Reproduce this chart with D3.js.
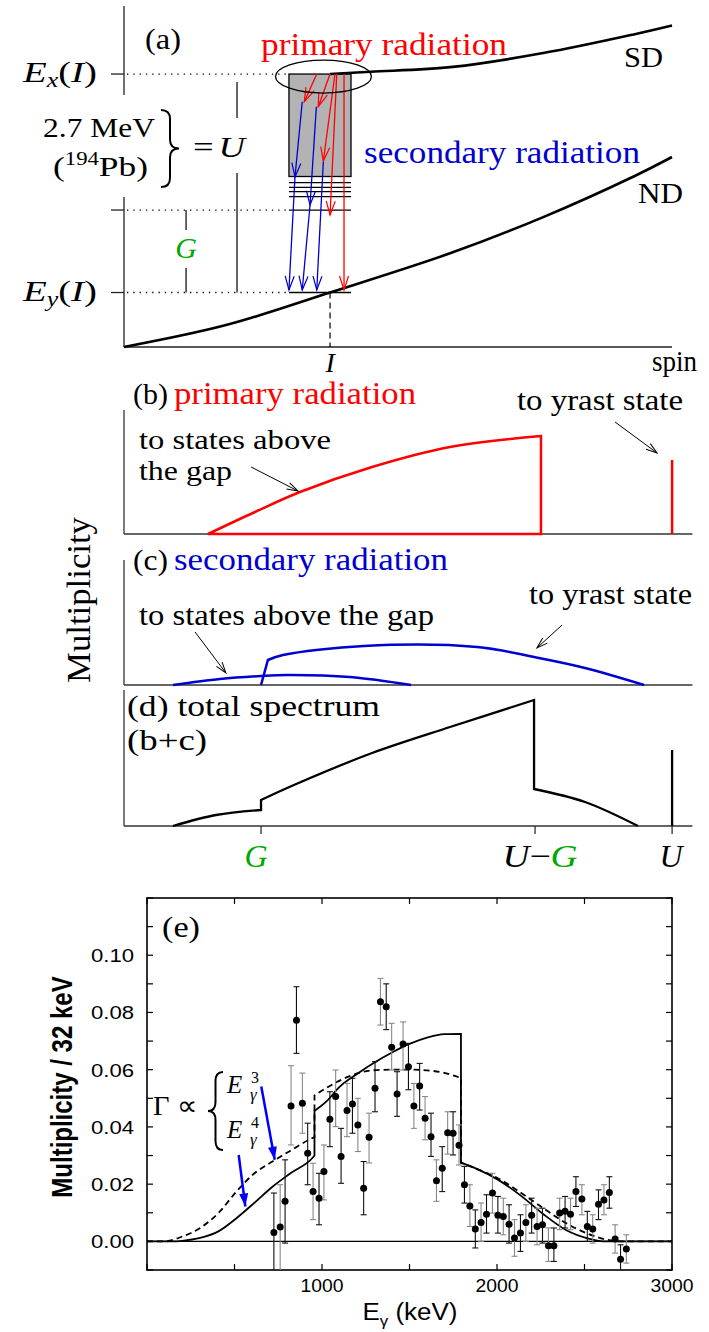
<!DOCTYPE html>
<html lang="en">
<head>
<meta charset="UTF-8">
<title>Primary and secondary radiation</title>
<script src="https://d3js.org/d3.v7.min.js"></script>
<style>
    body { margin: 0; background: #fff; }
    svg { display: block; }
</style>
</head>
<body>
<div id="chart"></div>
<script>
// ---------- panel (a): level scheme, spin vs energy (MeV) ----------
var sdCurve = [[15.04, 3.362], [18.0, 3.39], [24.0, 3.45], [30.6, 3.62], [37.2, 3.85], [40.0, 3.96]];
var ndCurve = [[0, 0], [7.45, 0.27], [15.04, 0.671], [23.9, 1.16], [30.6, 1.60], [37.2, 2.10], [40.0, 2.34]];
var spinI = 15.04;
var levelEx = 3.362, levelEy = 0.671, levelGap = 1.687;
var boxSpin = [12.04, 16.57], boxE = [2.100, 3.362];
var boxLines = [2.024, 1.967, 1.913, 1.851, 1.687, 0.671];
// [spin0, E0, spin1, E1]
var redArrows = [
    [14.07, 3.362, 13.16, 3.021],
    [15.04, 3.362, 14.18, 2.960],
    [15.40, 3.362, 14.55, 2.291],
    [15.53, 3.362, 15.04, 1.626],
    [16.06, 3.362, 16.06, 0.702]
];
var blueArrows = [
    [13.01, 3.021, 12.48, 2.094],
    [12.48, 2.094, 12.04, 0.702],
    [14.04, 2.960, 13.58, 1.749],
    [13.58, 1.749, 13.01, 0.702],
    [14.55, 2.282, 14.07, 0.702]
];
var ellipseA = {spin: 14.56, E: 3.331, dSpin: 3.5, dE: 0.203};
var uBar = {spin: 8.25, top: 3.264, gapTop: 2.82, gapBot: 2.143};
var gBar = {spin: 4.53, gapTop: 1.441, gapBot: 0.973};
var axisGapA = [1.847, 3.104];

// ---------- panels (b)-(d): schematic spectra vs E (MeV), U = 2.7 ----------
var valU = 2.7, valG = 0.675, valUmG = 2.025;
var primaryAbove = [[0.414, 0], [0.645, 0.22], [0.867, 0.42], [1.222, 0.67], [1.606, 0.87], [2.054, 0.98]];
var primaryYrast = 0.74;
var secondaryAbove = [[0.241, 0], [0.473, 0.06], [0.675, 0.09], [0.798, 0.10], [1.113, 0.08], [1.414, 0]];
var secondaryYrast = [[0.709, 0.25], [0.783, 0.30], [1.182, 0.39], [1.739, 0.38], [2.044, 0.27], [2.271, 0.17], [2.562, 0]];
var totalPieces = [
    [[0.241, 0], [0.453, 0.11], [0.675, 0.16]],
    [[0.675, 0.26], [0.837, 0.41], [1.222, 0.73], [1.606, 0.99], [2.02, 1.26]],
    [[2.02, 0.37], [2.271, 0.24], [2.532, 0]]
];
var totalYrast = 0.76;

// ---------- panel (e): measured quasi-continuum spectrum ----------
var binE = [725, 761, 789, 823, 854, 888, 918, 949, 983, 1011, 1045, 1078, 1109, 1143, 1174, 1205,
            1238, 1269, 1303, 1334, 1367, 1398, 1429, 1463, 1494, 1525, 1558, 1589, 1623, 1654, 1687, 1718,
            1749, 1783, 1814, 1845, 1876, 1909, 1940, 1974, 2005, 2036, 2069, 2100, 2134, 2165, 2198, 2229,
            2260, 2294, 2325, 2358, 2389, 2420, 2451, 2485, 2516, 2547, 2580, 2611, 2642, 2675, 2706, 2739];
var binMult = [0.0031, 0.0050, 0.0140, 0.0473, 0.0773, 0.0483, 0.0308, 0.0174, 0.0151, 0.0244, 0.0427, 0.0506, 0.0297, 0.0457, 0.0480, 0.0407,
               0.0186, 0.0364, 0.0535, 0.0837, 0.0820, 0.0678, 0.0515, 0.0690, 0.0610, 0.0473, 0.0543, 0.0430, 0.0366, 0.0212, 0.0256, 0.0380,
               0.0378, 0.0336, 0.0198, 0.0124, 0.0043, 0.0066, 0.0095, 0.0169, 0.0091, 0.0087, 0.0060, 0.0012, 0.0029, 0.0066, 0.0091, 0.0052,
               0.0058, -0.0015, -0.0015, 0.0099, 0.0105, 0.0095, 0.0174, 0.0148, 0.0052, 0.0043, 0.0130, 0.0145, 0.0171, 0.0008, -0.0062, -0.0027];
var binLow = [-0.012, -0.012, -0.0006, 0.0337, 0.0657, 0.0378, 0.0198, 0.0076, 0.0058, 0.0145, 0.0331, 0.0401, 0.0203, 0.0366, 0.0378, 0.0314,
              0.0093, 0.0274, 0.0453, 0.0756, 0.0740, 0.0599, 0.0437, 0.0599, 0.0530, 0.0395, 0.0459, 0.0355, 0.0297, 0.0140, 0.0174, 0.0305,
              0.0302, 0.0267, 0.0134, 0.0052, -0.0023, 0.0000, 0.0029, 0.0099, 0.0029, 0.0023, -0.0006, -0.0052, -0.0035, 0.0000, 0.0029, -0.0012,
              -0.0006, -0.0070, -0.0070, 0.0041, 0.0047, 0.0041, 0.0122, 0.0093, 0.0000, -0.0006, 0.0076, 0.0093, 0.0116, -0.0041, -0.0110, -0.0076];
var binHigh = [0.0169, 0.0198, 0.0285, 0.0614, 0.0890, 0.0588, 0.0413, 0.0273, 0.0238, 0.0337, 0.0523, 0.0599, 0.0395, 0.0552, 0.0570, 0.0500,
               0.0279, 0.0448, 0.0628, 0.0919, 0.0900, 0.0762, 0.0593, 0.0767, 0.0692, 0.0552, 0.0622, 0.0506, 0.0448, 0.0285, 0.0331, 0.0453,
               0.0453, 0.0407, 0.0262, 0.0198, 0.0110, 0.0134, 0.0163, 0.0238, 0.0157, 0.0151, 0.0128, 0.0076, 0.0093, 0.0128, 0.0151, 0.0116,
               0.0116, 0.0047, 0.0047, 0.0151, 0.0157, 0.0151, 0.0226, 0.0198, 0.0105, 0.0093, 0.0180, 0.0198, 0.0226, 0.0058, -0.0012, 0.0023];
// Gamma ~ E^4 (solid) and E^3 (dashed) calculations
var calcE4 = [[0, 0], [150, 0], [201, 0.0002], [304, 0.0012], [408, 0.0035], [511, 0.0081], [614, 0.0135], [717, 0.0191], [820, 0.0238], [949, 0.0294], [957, 0.0300],
              [957, 0.0456], [1027, 0.0490], [1100, 0.0540], [1200, 0.0585], [1300, 0.0625], [1400, 0.0660], [1500, 0.0690], [1600, 0.0712], [1700, 0.0724], [1794, 0.0725],
              [1794, 0.0275], [1878, 0.0255], [2007, 0.0215], [2136, 0.0160], [2265, 0.0095], [2394, 0.0040], [2523, 0.0010], [2626, 0], [3000, 0]];
var calcE3 = [[0, 0], [100, 0], [201, 0.0017], [304, 0.0047], [408, 0.0099], [511, 0.0174], [614, 0.0238], [717, 0.0279], [820, 0.0317], [949, 0.0362], [957, 0.0364],
              [957, 0.0510], [1027, 0.0537], [1178, 0.0582], [1293, 0.0598], [1400, 0.0600], [1521, 0.0600], [1674, 0.0592], [1794, 0.0571],
              [1794, 0.0275], [1878, 0.0255], [2007, 0.0220], [2136, 0.0170], [2265, 0.0116], [2394, 0.0064], [2523, 0.0026], [2626, 0.0006], [2700, 0], [3000, 0]];
var yTicksE = [0.00, 0.02, 0.04, 0.06, 0.08, 0.10];
var xTicksE = [1000, 2000, 3000];

var red = '#ff0000', blue = '#0000d0', green = '#00a800';
var serif = '"Liberation Serif", "Times New Roman", serif';
var sans = '"Liberation Sans", Arial, sans-serif';

var svg = d3.select('#chart').append('svg')
    .attr('width', 709).attr('height', 1332)
    .style('background', '#fff');
var defs = svg.append('defs');

function openHead(id, color, len, half, sw) {
    defs.append('marker').attr('id', id)
        .attr('viewBox', (-len - 2) + ' ' + (-half - 2) + ' ' + (len + 4) + ' ' + (2 * half + 4))
        .attr('refX', 0).attr('refY', 0)
        .attr('markerWidth', len + 4).attr('markerHeight', 2 * half + 4)
        .attr('markerUnits', 'userSpaceOnUse').attr('orient', 'auto')
        .append('path').attr('d', 'M' + (-len) + ',' + (-half) + ' L0,0 L' + (-len) + ',' + half)
        .attr('fill', 'none').attr('stroke', color).attr('stroke-width', sw);
}
openHead('hRed', red, 14, 4.5, 1.2);
openHead('hBlue', blue, 14, 4.5, 1.2);
openHead('hBlack', '#000', 11, 3.5, 1);
defs.append('marker').attr('id', 'hFill')
    .attr('viewBox', '-14 -6 16 12').attr('refX', 0).attr('refY', 0)
    .attr('markerWidth', 16).attr('markerHeight', 12)
    .attr('markerUnits', 'userSpaceOnUse').attr('orient', 'auto')
    .append('path').attr('d', 'M-13,-4.5 L0,0 L-13,4.5 Z').attr('fill', '#0000ff');

function addText(g, x, y, parts, o) {
    o = o || {};
    var t = g.append('text').attr('x', x).attr('y', y)
        .attr('font-family', o.family || serif)
        .attr('font-size', o.size || 30)
        .attr('fill', o.color || '#000')
        .attr('text-anchor', o.anchor || 'start');
    if (o.width) t.attr('textLength', o.width).attr('lengthAdjust', 'spacingAndGlyphs');
    if (o.weight) t.attr('font-weight', o.weight);
    if (o.transform) t.attr('transform', o.transform);
    parts.forEach(function(p) {
        if (typeof p === 'string') p = {t: p};
        var s = t.append('tspan').text(p.t);
        if (p.italic) s.attr('font-style', 'italic');
        if (p.size) s.attr('font-size', p.size);
        if (p.dy) s.attr('dy', p.dy);
        if (p.dx) s.attr('dx', p.dx);
        if (p.color) s.attr('fill', p.color);
    });
    return t;
}

function bracePath(x, y0, y1, w, d) {
    var ym = (y0 + y1) / 2, xm = x + d * w / 2, xt = x + d * w, q = Math.min(9, (y1 - y0) / 6);
    return 'M' + x + ',' + y0 + ' Q' + xm + ',' + y0 + ' ' + xm + ',' + (y0 + q) +
        ' L' + xm + ',' + (ym - q) + ' Q' + xm + ',' + ym + ' ' + xt + ',' + ym +
        ' Q' + xm + ',' + ym + ' ' + xm + ',' + (ym + q) +
        ' L' + xm + ',' + (y1 - q) + ' Q' + xm + ',' + y1 + ' ' + x + ',' + y1;
}

// =================== (a) ===================
var ga = svg.append('g');
var sx = d3.scaleLinear().domain([0, 40]).range([124, 672]);
var sy = d3.scaleLinear().domain([0, 4.2]).range([347, 6]);
var lineA = d3.line().x(function(d) { return sx(d[0]); }).y(function(d) { return sy(d[1]); }).curve(d3.curveCatmullRom);

// axes
ga.append('line').attr('x1', sx(0)).attr('x2', sx(0)).attr('y1', sy(4.2)).attr('y2', sy(axisGapA[1])).attr('stroke', '#222').attr('stroke-width', 1.3);
ga.append('line').attr('x1', sx(0)).attr('x2', sx(0)).attr('y1', sy(axisGapA[0])).attr('y2', sy(0)).attr('stroke', '#222').attr('stroke-width', 1.3);
ga.append('line').attr('x1', sx(0)).attr('x2', sx(40)).attr('y1', sy(0)).attr('y2', sy(0)).attr('stroke', '#222').attr('stroke-width', 1.3);
[levelEx, levelGap, levelEy].forEach(function(e) {
    ga.append('line').attr('x1', sx(0) - 13).attr('x2', sx(0)).attr('y1', sy(e)).attr('y2', sy(e)).attr('stroke', '#222').attr('stroke-width', 1.3);
    ga.append('line').attr('x1', sx(0) + 3).attr('x2', sx(boxSpin[0])).attr('y1', sy(e)).attr('y2', sy(e))
        .attr('stroke', '#000').attr('stroke-width', 1.3).attr('stroke-dasharray', '1.3,5');
});
// U and G bars
ga.append('line').attr('x1', sx(uBar.spin)).attr('x2', sx(uBar.spin)).attr('y1', sy(uBar.top)).attr('y2', sy(uBar.gapTop)).attr('stroke', '#000').attr('stroke-width', 1.2);
ga.append('line').attr('x1', sx(uBar.spin)).attr('x2', sx(uBar.spin)).attr('y1', sy(uBar.gapBot)).attr('y2', sy(levelEy)).attr('stroke', '#000').attr('stroke-width', 1.2);
ga.append('line').attr('x1', sx(gBar.spin)).attr('x2', sx(gBar.spin)).attr('y1', sy(levelGap)).attr('y2', sy(gBar.gapTop)).attr('stroke', '#000').attr('stroke-width', 1.2);
ga.append('line').attr('x1', sx(gBar.spin)).attr('x2', sx(gBar.spin)).attr('y1', sy(gBar.gapBot)).attr('y2', sy(levelEy)).attr('stroke', '#000').attr('stroke-width', 1.2);
// I marker
ga.append('line').attr('x1', sx(spinI)).attr('x2', sx(spinI)).attr('y1', sy(levelEy)).attr('y2', sy(0))
    .attr('stroke', '#000').attr('stroke-width', 1.2).attr('stroke-dasharray', '6,4');

// box of states
ga.append('rect').attr('x', sx(boxSpin[0])).attr('y', sy(boxE[1]))
    .attr('width', sx(boxSpin[1]) - sx(boxSpin[0])).attr('height', sy(boxE[0]) - sy(boxE[1]))
    .attr('fill', '#b3b3b3').attr('stroke', '#000').attr('stroke-width', 1.3);
boxLines.forEach(function(e) {
    ga.append('line').attr('x1', sx(boxSpin[0])).attr('x2', sx(boxSpin[1])).attr('y1', sy(e)).attr('y2', sy(e))
        .attr('stroke', '#000').attr('stroke-width', 1.3);
});

// yrast lines
ga.append('path').attr('d', lineA(ndCurve)).attr('fill', 'none').attr('stroke', '#000').attr('stroke-width', 2.6);
ga.append('path').attr('d', lineA(sdCurve)).attr('fill', 'none').attr('stroke', '#000').attr('stroke-width', 2.6);

// transitions
redArrows.forEach(function(a) {
    ga.append('line').attr('x1', sx(a[0])).attr('y1', sy(a[1])).attr('x2', sx(a[2])).attr('y2', sy(a[3]))
        .attr('stroke', red).attr('stroke-width', 1.3).attr('marker-end', 'url(#hRed)');
});
blueArrows.forEach(function(a) {
    ga.append('line').attr('x1', sx(a[0])).attr('y1', sy(a[1])).attr('x2', sx(a[2])).attr('y2', sy(a[3]))
        .attr('stroke', blue).attr('stroke-width', 1.3).attr('marker-end', 'url(#hBlue)');
});
ga.append('ellipse').attr('cx', sx(ellipseA.spin)).attr('cy', sy(ellipseA.E))
    .attr('rx', sx(ellipseA.dSpin) - sx(0)).attr('ry', sy(0) - sy(ellipseA.dE))
    .attr('fill', 'none').attr('stroke', '#000').attr('stroke-width', 1.3);

// labels (a)
addText(ga, 145, 49, ['(a)'], {size: 30, width: 36});
addText(ga, 261, 55, ['primary radiation'], {size: 31, color: red, width: 246});
addText(ga, 364, 163, ['secondary radiation'], {size: 31, color: blue, width: 276});
addText(ga, 624, 67, ['SD'], {size: 29, width: 39});
addText(ga, 638, 203, ['ND'], {size: 29, width: 45});
addText(ga, 23, 82, [{t: 'E', italic: true}, {t: 'x', italic: true, size: 20, dy: 5}, {t: '(', dy: -5}, {t: 'I', italic: true}, ')'], {size: 30, width: 74});
addText(ga, 23, 301, [{t: 'E', italic: true}, {t: 'y', italic: true, size: 20, dy: 5}, {t: '(', dy: -5}, {t: 'I', italic: true}, ')'], {size: 30, width: 74});
addText(ga, 43, 137, ['2.7 MeV'], {size: 28, width: 112});
addText(ga, 53, 176, ['(', {t: '194', size: 18, dy: -11}, {t: 'Pb', dy: 11}, ')'], {size: 28, width: 95});
ga.append('path').attr('d', bracePath(161, 110, 187, 18, 1)).attr('fill', 'none').attr('stroke', '#000').attr('stroke-width', 2);
addText(ga, 193, 157, ['=', {t: 'U', italic: true, dx: 4}], {size: 30, width: 52});
addText(ga, sx(gBar.spin), 258, [{t: 'G', italic: true}], {size: 30, color: green, anchor: 'middle'});
addText(ga, sx(spinI), 372, [{t: 'I', italic: true}], {size: 28, anchor: 'middle'});
addText(ga, 652, 371, ['spin'], {size: 30, width: 45});

// =================== (b)-(d) ===================
var ex = d3.scaleLinear().domain([0, 2.8]).range([124, 692.4]);
var yb = d3.scaleLinear().domain([0, 1]).range([534, 434]);
var yc = d3.scaleLinear().domain([0, 1]).range([685, 585]);
var yd = d3.scaleLinear().domain([0, 1]).range([826, 726]);

function spectrumFrame(g, ys, top) {
    g.append('line').attr('x1', ex(0)).attr('x2', ex(0)).attr('y1', top).attr('y2', ys(0)).attr('stroke', '#333').attr('stroke-width', 1.3);
    g.append('line').attr('x1', ex(0)).attr('x2', ex(2.8)).attr('y1', ys(0)).attr('y2', ys(0)).attr('stroke', '#333').attr('stroke-width', 1.3);
}
function curvePath(ys, pieces) {
    var gen = d3.line().x(function(d) { return ex(d[0]); }).y(function(d) { return ys(d[1]); }).curve(d3.curveCatmullRom);
    return pieces.map(function(p, i) {
        var s = gen(p);
        return i === 0 ? s : 'L' + s.slice(1);
    }).join('');
}
function pointer(g, ys, a) {
    g.append('line').attr('x1', ex(a[0])).attr('y1', ys(a[1])).attr('x2', ex(a[2])).attr('y2', ys(a[3]))
        .attr('stroke', '#000').attr('stroke-width', 1).attr('marker-end', 'url(#hBlack)');
}

// (b)
var gb = svg.append('g');
spectrumFrame(gb, yb, 410);
gb.append('path').attr('d', curvePath(yb, [primaryAbove, [[primaryAbove[primaryAbove.length - 1][0], 0]]]))
    .attr('fill', 'none').attr('stroke', red).attr('stroke-width', 2.5);
gb.append('line').attr('x1', ex(valU)).attr('x2', ex(valU)).attr('y1', yb(0)).attr('y2', yb(primaryYrast)).attr('stroke', red).attr('stroke-width', 2.5);
addText(gb, 133, 404, ['(b)'], {size: 29, width: 35});
addText(gb, 174, 404, ['primary radiation'], {size: 31, color: red, width: 242});
addText(gb, 517, 410, ['to yrast state'], {size: 29, width: 166});
addText(gb, 139, 449, ['to states above'], {size: 27, width: 192});
addText(gb, 139, 480, ['the gap'], {size: 27, width: 93});
pointer(gb, yb, [0.626, 0.67, 0.857, 0.43]);
pointer(gb, yb, [2.419, 1.12, 2.626, 0.81]);

// (c)
var gc = svg.append('g');
spectrumFrame(gc, yc, 560);
gc.append('path').attr('d', curvePath(yc, [secondaryAbove])).attr('fill', 'none').attr('stroke', blue).attr('stroke-width', 2.5);
gc.append('path').attr('d', curvePath(yc, [[[valG, 0]], secondaryYrast])).attr('fill', 'none').attr('stroke', blue).attr('stroke-width', 2.5);
addText(gc, 133, 570, ['(c)'], {size: 29, width: 35});
addText(gc, 174, 570, ['secondary radiation'], {size: 31, color: blue, width: 274});
addText(gc, 529, 604, ['to yrast state'], {size: 29, width: 163});
addText(gc, 139, 625, ['to states above the gap'], {size: 29, width: 295});
pointer(gc, yc, [2.158, 0.60, 2.034, 0.37]);
pointer(gc, yc, [0.350, 0.53, 0.502, 0.12]);

// (d)
var gd = svg.append('g');
spectrumFrame(gd, yd, 690);
gd.append('path').attr('d', curvePath(yd, totalPieces)).attr('fill', 'none').attr('stroke', '#000').attr('stroke-width', 2.3);
gd.append('line').attr('x1', ex(valU)).attr('x2', ex(valU)).attr('y1', yd(0)).attr('y2', yd(totalYrast)).attr('stroke', '#000').attr('stroke-width', 2.3);
[valG, valUmG, valU].forEach(function(v) {
    gd.append('line').attr('x1', ex(v)).attr('x2', ex(v)).attr('y1', yd(0)).attr('y2', yd(0) + 8).attr('stroke', '#333').attr('stroke-width', 1.3);
});
addText(gd, 127, 716, ['(d) total spectrum'], {size: 30, width: 253});
addText(gd, 127, 750, ['(b+c)'], {size: 30, width: 80});
addText(gd, ex(valG) - 5, 867, [{t: 'G', italic: true}], {size: 32, color: green, anchor: 'middle'});
addText(gd, ex(valUmG) + 5, 867, [{t: 'U', italic: true}, {t: '\u2212'}, {t: 'G', italic: true, color: green}], {size: 32, anchor: 'middle', width: 75});
addText(gd, ex(valU) - 1, 867, [{t: 'U', italic: true}], {size: 32, anchor: 'middle'});

addText(svg, 0, 0, ['Multiplicity'], {size: 33, anchor: 'middle', width: 166, transform: 'translate(90,600) rotate(-90)'});

// =================== (e) ===================
var ge = svg.append('g');
var xe = d3.scaleLinear().domain([0, 3000]).range([147, 672]);
var ye = d3.scaleLinear().domain([-0.01, 0.12]).range([1270, 898]);

defs.append('clipPath').attr('id', 'clipE').append('rect')
    .attr('x', xe(0)).attr('y', ye(0.12)).attr('width', xe(3000) - xe(0)).attr('height', ye(-0.01) - ye(0.12));

ge.append('rect').attr('x', xe(0)).attr('y', ye(0.12)).attr('width', xe(3000) - xe(0)).attr('height', ye(-0.01) - ye(0.12))
    .attr('fill', 'none').attr('stroke', '#000').attr('stroke-width', 1.6);
d3.range(-0.01, 0.1201, 0.01).forEach(function(v) {
    ge.append('line').attr('x1', xe(0)).attr('x2', xe(0) + 6).attr('y1', ye(v)).attr('y2', ye(v)).attr('stroke', '#000').attr('stroke-width', 1.2);
    ge.append('line').attr('x1', xe(3000) - 6).attr('x2', xe(3000)).attr('y1', ye(v)).attr('y2', ye(v)).attr('stroke', '#000').attr('stroke-width', 1.2);
});
d3.range(0, 3001, 500).forEach(function(v) {
    ge.append('line').attr('x1', xe(v)).attr('x2', xe(v)).attr('y1', ye(0.12)).attr('y2', ye(0.12) + 6).attr('stroke', '#000').attr('stroke-width', 1.2);
    ge.append('line').attr('x1', xe(v)).attr('x2', xe(v)).attr('y1', ye(-0.01) - 6).attr('y2', ye(-0.01)).attr('stroke', '#000').attr('stroke-width', 1.2);
});
yTicksE.forEach(function(v) {
    addText(ge, 134, ye(v) + 7, [v.toFixed(2)], {family: sans, size: 19, anchor: 'end', width: 43});
});
xTicksE.forEach(function(v) {
    addText(ge, xe(v), 1292, [String(v)], {family: sans, size: 19, anchor: 'middle', width: 43});
});
addText(ge, 410, 1320, ['E', {t: '\u03b3', size: 15, dy: 6}, {t: ' (keV)', dy: -6}], {family: sans, size: 23, anchor: 'middle', width: 95});
addText(ge, 0, 0, ['Multiplicity / 32 keV'], {family: sans, size: 24, weight: 'bold', anchor: 'middle',
    transform: 'translate(72,1087) scale(1.25,1) rotate(-90)'});

var plotE = ge.append('g').attr('clip-path', 'url(#clipE)');
plotE.append('line').attr('x1', xe(0)).attr('x2', xe(3000)).attr('y1', ye(0)).attr('y2', ye(0)).attr('stroke', '#000').attr('stroke-width', 1.3);

var lineE = d3.line().x(function(d) { return xe(d[0]); }).y(function(d) { return ye(d[1]); }).curve(d3.curveMonotoneX);
function calcPath(pts) {
    // split at the steps so the vertical drops stay vertical
    var pieces = [], cur = [];
    pts.forEach(function(p, i) {
        if (i > 0 && p[0] === pts[i - 1][0]) { pieces.push(cur); cur = []; }
        cur.push(p);
    });
    pieces.push(cur);
    return pieces.map(function(p, i) { var s = lineE(p); return i === 0 ? s : 'L' + s.slice(1); }).join('');
}
plotE.append('path').attr('d', calcPath(calcE4)).attr('fill', 'none').attr('stroke', '#000').attr('stroke-width', 1.8);
plotE.append('path').attr('d', calcPath(calcE3)).attr('fill', 'none').attr('stroke', '#000').attr('stroke-width', 1.8).attr('stroke-dasharray', '6,4');

binE.forEach(function(e, i) {
    var c = i % 2 === 0 ? '#111' : '#888';
    plotE.append('line').attr('x1', xe(e)).attr('x2', xe(e)).attr('y1', ye(binLow[i])).attr('y2', ye(binHigh[i])).attr('stroke', c).attr('stroke-width', 1.1);
    [binLow[i], binHigh[i]].forEach(function(v) {
        plotE.append('line').attr('x1', xe(e) - 3).attr('x2', xe(e) + 3).attr('y1', ye(v)).attr('y2', ye(v)).attr('stroke', c).attr('stroke-width', 1.1);
    });
});
plotE.selectAll('circle.pt').data(binE).enter().append('circle').attr('class', 'pt')
    .attr('cx', function(d) { return xe(d); })
    .attr('cy', function(d, i) { return ye(binMult[i]); })
    .attr('r', 3.5).attr('fill', '#000');

// annotation
addText(ge, 162, 937, ['(e)'], {size: 29, width: 38});
addText(ge, 153, 1115, ['\u0393 \u221d'], {size: 28, width: 44});
ge.append('path').attr('d', bracePath(223, 1072, 1150, 15, -1)).attr('fill', 'none').attr('stroke', '#000').attr('stroke-width', 2);
addText(ge, 227, 1093, [{t: 'E', italic: true}], {size: 25});
addText(ge, 251, 1083, ['3'], {size: 16});
addText(ge, 250, 1100, [{t: '\u03b3', italic: true}], {size: 17});
addText(ge, 227, 1138, [{t: 'E', italic: true}], {size: 25});
addText(ge, 251, 1128, ['4'], {size: 16});
addText(ge, 250, 1145, [{t: '\u03b3', italic: true}], {size: 17});
[[653, 0.0541, 730, 0.0285], [524, 0.0302, 562, 0.0122]].forEach(function(a) {
    ge.append('line').attr('x1', xe(a[0])).attr('y1', ye(a[1])).attr('x2', xe(a[2])).attr('y2', ye(a[3]))
        .attr('stroke', '#0000ff').attr('stroke-width', 2.5).attr('marker-end', 'url(#hFill)');
});
</script>
</body>
</html>
